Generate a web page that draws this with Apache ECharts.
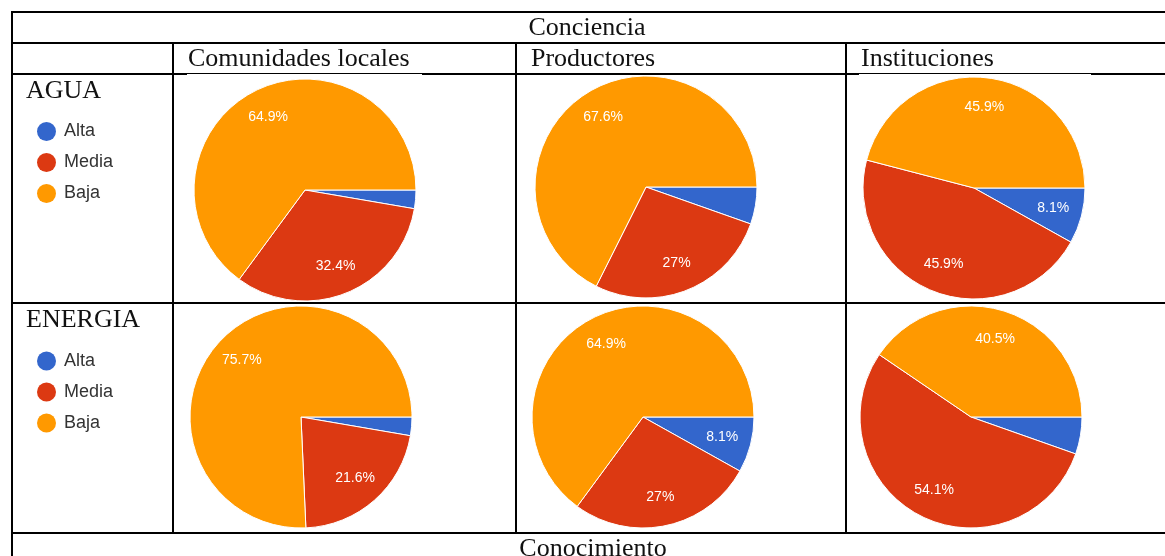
<!DOCTYPE html>
<html>
<head>
<meta charset="utf-8">
<script src="https://cdn.jsdelivr.net/npm/echarts@6/dist/echarts.min.js"></script>
<style>
  html, body { margin: 0; padding: 0; background: #fff; }
  #chart { width: 1165px; height: 556px; }
</style>
</head>
<body>
<div id="chart"></div>
<script>
// Levels shown in each pie, in drawing order (clockwise from 3 o'clock)
const levels = ['Alta', 'Media', 'Baja'];
const levelColors = ['#3366CC', '#DC3912', '#FF9900'];

// Table headings
const sectionTitle = 'Conciencia';
const nextSectionTitle = 'Conocimiento';
const groups = ['Comunidades locales', 'Productores', 'Instituciones'];
const topics = ['AGUA', 'ENERGIA'];

// Share of answers (%) per level: Alta, Media, Baja
const aguaComunidades = [2.7, 32.4, 64.9];
const aguaProductores = [5.4, 27, 67.6];
const aguaInstituciones = [8.1, 45.9, 45.9];
const energiaComunidades = [2.7, 21.6, 75.7];
const energiaProductores = [8.1, 27, 64.9];
const energiaInstituciones = [5.4, 54.1, 40.5];

const rows = [
  [aguaComunidades, aguaProductores, aguaInstituciones],
  [energiaComunidades, energiaProductores, energiaInstituciones]
];

// ---- layout ----
const pieRadius = 111;
const pieCenters = [
  [[305, 190], [646, 187], [974, 188]],
  [[301, 417], [643, 417], [971, 417]]
];
const serif = '"Liberation Serif", "DejaVu Serif", serif';
const sans = '"Liberation Sans", Arial, sans-serif';

const chart = echarts.init(document.getElementById('chart'), null, { renderer: 'canvas' });

const series = [];
rows.forEach((row, r) => {
  row.forEach((values, c) => {
    const data = values.map((v, i) => ({ name: levels[i], value: v }));
    // filled slices
    series.push({
      type: 'pie',
      center: pieCenters[r][c],
      radius: pieRadius,
      startAngle: 0,
      clockwise: true,
      animation: false,
      silent: true,
      emphasis: { disabled: true },
      itemStyle: { borderColor: '#ffffff', borderWidth: 1 },
      label: { show: false },
      labelLine: { show: false },
      data: data.map((d, i) => ({ ...d, itemStyle: { color: levelColors[i] } }))
    });
    // percentage labels placed at ~70% of the radius
    series.push({
      type: 'pie',
      center: pieCenters[r][c],
      radius: [pieRadius * 0.42, pieRadius],
      startAngle: 0,
      clockwise: true,
      animation: false,
      silent: true,
      avoidLabelOverlap: false,
      emphasis: { disabled: true },
      itemStyle: { color: 'rgba(0,0,0,0)', borderWidth: 0 },
      label: {
        show: true,
        position: 'inside',
        color: '#ffffff',
        fontFamily: sans,
        fontSize: 14,
        formatter: p => (p.value >= 8 ? p.value + '%' : '')
      },
      labelLine: { show: false },
      data: data
    });
  });
});

const legendBase = {
  orient: 'vertical',
  left: 37,
  padding: 0,
  icon: 'circle',
  itemWidth: 19,
  itemHeight: 19,
  itemGap: 12,
  selectedMode: false,
  itemStyle: { borderWidth: 0 },
  textStyle: { fontFamily: sans, fontSize: 18, color: '#333333', padding: [0, 0, 0, 3] },
  data: levels.map((n, i) => ({ name: n, itemStyle: { color: levelColors[i] } }))
};

// table rules
const hLines = [12, 43, 74, 303, 533];
const colX = [12, 173, 516, 846];
const graphics = [];
hLines.forEach(y => {
  graphics.push({ type: 'line', z: 10, shape: { x1: 11, y1: y, x2: 1165, y2: y }, style: { stroke: '#000', lineWidth: 2 } });
});
graphics.push({ type: 'line', z: 10, shape: { x1: 12, y1: 11, x2: 12, y2: 556 }, style: { stroke: '#000', lineWidth: 2 } });
colX.slice(1).forEach(x => {
  graphics.push({ type: 'line', z: 10, shape: { x1: x, y1: 43, x2: x, y2: 533 }, style: { stroke: '#000', lineWidth: 2 } });
});
// white image backgrounds of the first and last pies slightly overlap the header rule
[[187, 422], [859, 1091]].forEach(([a, b]) => {
  graphics.push({ type: 'rect', z: 11, shape: { x: a, y: 74, width: b - a, height: 1.2 }, style: { fill: '#fff' } });
});

function label(text, x, y, align) {
  return {
    type: 'text', z: 12, x: x, y: y,
    style: {
      text: text, font: '26px ' + serif, fill: '#111111',
      textAlign: align, align: align, textVerticalAlign: 'middle', verticalAlign: 'middle'
    }
  };
}
graphics.push(label(sectionTitle, 587, 28, 'center'));
graphics.push(label(groups[0], 188, 59, 'left'));
graphics.push(label(groups[1], 531, 59, 'left'));
graphics.push(label(groups[2], 861, 59, 'left'));
graphics.push(label(topics[0], 26, 91, 'left'));
graphics.push(label(topics[1], 26, 320, 'left'));
graphics.push(label(nextSectionTitle, 593, 549, 'center'));

chart.setOption({
  animation: false,
  color: levelColors,
  legend: [
    { ...legendBase, top: 122 },
    { ...legendBase, top: 351.5 }
  ],
  series: series,
  graphic: { elements: graphics }
});
</script>
</body>
</html>
